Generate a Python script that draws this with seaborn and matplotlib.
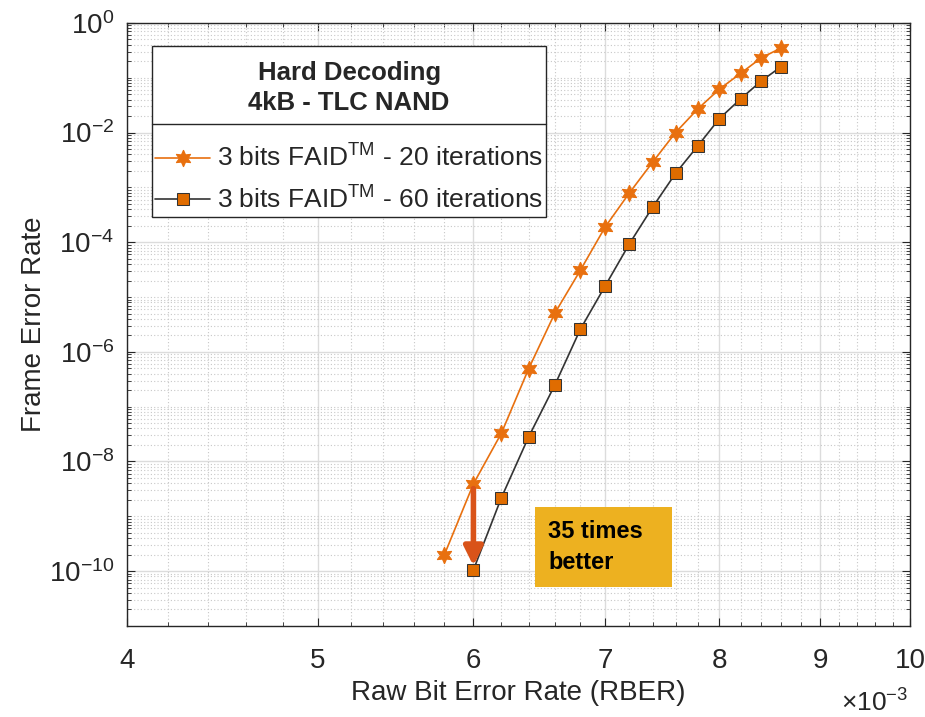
import numpy as np
import pandas as pd
import matplotlib
matplotlib.use("Agg")
import matplotlib.pyplot as plt
import matplotlib.ticker as mticker
from matplotlib.lines import Line2D
from matplotlib.patches import Rectangle
from matplotlib.offsetbox import VPacker, DrawingArea
import seaborn as sns

# RBER values and frame error rates
rber_20 = [5.8e-3, 6.0e-3, 6.2e-3, 6.4e-3, 6.6e-3, 6.8e-3, 7.0e-3, 7.2e-3,
           7.4e-3, 7.6e-3, 7.8e-3, 8.0e-3, 8.2e-3, 8.4e-3, 8.6e-3]
fer_20 = [2.0e-10, 3.9e-9, 3.3e-8, 4.9e-7, 5.1e-6, 3.1e-5, 1.9e-4, 7.9e-4,
          2.9e-3, 1.0e-2, 2.7e-2, 6.2e-2, 0.12, 0.23, 0.35]

rber_60 = [6.0e-3, 6.2e-3, 6.4e-3, 6.6e-3, 6.8e-3, 7.0e-3, 7.2e-3,
           7.4e-3, 7.6e-3, 7.8e-3, 8.0e-3, 8.2e-3, 8.4e-3, 8.6e-3]
fer_60 = [1.05e-10, 2.2e-9, 2.8e-8, 2.5e-7, 2.6e-6, 1.6e-5, 9.3e-5,
          4.4e-4, 1.8e-3, 5.7e-3, 1.8e-2, 4.1e-2, 8.7e-2, 0.16]

labels = [r"3 bits FAID$^{\rm TM}$ - 20 iterations",
          r"3 bits FAID$^{\rm TM}$ - 60 iterations"]
legend_title = "Hard Decoding\n4kB - TLC NAND"
note = "35 times\nbetter"

df20 = pd.DataFrame({"rber": rber_20, "fer": fer_20})
df60 = pd.DataFrame({"rber": rber_60, "fer": fer_60})

sns.set_style("ticks")
plt.rcParams["font.family"] = ["Liberation Sans", "DejaVu Sans"]
plt.rcParams["mathtext.fontset"] = "custom"
plt.rcParams["mathtext.rm"] = "Liberation Sans"
plt.rcParams["mathtext.it"] = "Liberation Sans:italic"
plt.rcParams["mathtext.bf"] = "Liberation Sans:bold"

txt = "#262626"
orange = "#E8700F"

fig = plt.figure(figsize=(9.25, 7.17), dpi=100)
ax = fig.add_axes([0.137, 0.127, 0.847, 0.841])

sns.lineplot(data=df20, x="rber", y="fer", ax=ax, color=orange, lw=1.2,
             marker=(6, 1, 0), markersize=12, markeredgecolor=orange,
             markerfacecolor=orange, label=labels[0])
sns.lineplot(data=df60, x="rber", y="fer", ax=ax, color="#333333", lw=1.2,
             marker="s", markersize=9, markeredgecolor="#333333",
             markerfacecolor="#E06C00", label=labels[1])

ax.set_xscale("log")
ax.set_yscale("log")
ax.set_xlim(4e-3, 10e-3)
ax.set_ylim(1e-11, 1e0)

ax.xaxis.set_major_locator(mticker.FixedLocator(np.arange(4, 11) * 1e-3))
ax.xaxis.set_major_formatter(mticker.FuncFormatter(lambda v, p: f"{v * 1e3:g}"))
ax.xaxis.set_minor_locator(mticker.FixedLocator(np.arange(4.2, 10, 0.2) * 1e-3))
ax.xaxis.set_minor_formatter(mticker.NullFormatter())

ax.yaxis.set_major_locator(mticker.LogLocator(base=100, numticks=20))
ax.yaxis.set_major_formatter(mticker.LogFormatterMathtext(base=10))
ax.yaxis.set_minor_locator(mticker.LogLocator(base=10, subs=np.arange(1, 10), numticks=50))
ax.yaxis.set_minor_formatter(mticker.NullFormatter())

ax.grid(which="major", color="#dcdcdc", lw=1.0, ls="-")
ax.grid(which="minor", color="#c8c8c8", lw=0.8, ls=(0, (1, 2)))
ax.set_axisbelow(True)

ax.tick_params(which="both", direction="in", top=True, right=True, colors=txt)
ax.tick_params(which="major", length=6, labelsize=20)
ax.tick_params(axis="x", which="major", pad=16)
ax.tick_params(axis="y", which="major", pad=9)
ax.tick_params(which="minor", length=3)
for s in ax.spines.values():
    s.set_color(txt)
    s.set_linewidth(1.0)

ax.set_xlabel("Raw Bit Error Rate (RBER)", fontsize=20, color=txt, labelpad=4)
ax.set_ylabel("Frame Error Rate", fontsize=20, color=txt)
ax.yaxis.set_label_coords(-0.102, 0.5)
fig.text(0.982, 0.001, r"$\times10^{-3}$", fontsize=19, color=txt,
         ha="right", va="bottom")

# arrow and annotation box
ax.annotate("", xy=(6.0e-3, 1.25e-10), xytext=(6.0e-3, 3.2e-9),
            arrowprops=dict(arrowstyle="-|>", lw=4, color="#D95319",
                            mutation_scale=28, shrinkA=0, shrinkB=0))
ax.add_patch(Rectangle((6.45e-3, 10 ** -10.29), 7.57e-3 - 6.45e-3,
                       10 ** -8.83 - 10 ** -10.29, facecolor="#EDB120",
                       edgecolor="none", zorder=3))
ax.text(6.55e-3, 10 ** -9.56, note, fontsize=17, fontweight="bold",
        color="black", ha="left", va="center", linespacing=1.45, zorder=4)

leg = ax.legend(loc="upper left", bbox_to_anchor=(0.032, 0.961), fontsize=19,
                title=legend_title, frameon=True, fancybox=False,
                edgecolor=txt, framealpha=1, borderpad=0.12, borderaxespad=0,
                handlelength=2.1, handletextpad=0.25, labelspacing=0.55)
leg.get_frame().set_linewidth(1.0)
plt.setp(leg.get_title(), fontsize=18.5, fontweight="bold",
         multialignment="center", linespacing=1.35)
leg._legend_box.align = "center"
leg._legend_box.sep = 21
# extra room above the title
title_box = leg._legend_box._children[0]
leg._legend_box._children[0] = VPacker(children=[DrawingArea(1, 8), title_box],
                                       pad=0, sep=0, align="center")

# separator line under the legend title
fig.canvas.draw()
lb = leg.get_window_extent()
tb = leg.get_title().get_window_extent()
inv = fig.transFigure.inverted()
(x0, y0), (x1, _) = inv.transform([(lb.x0, tb.y0 - 9), (lb.x1, tb.y0 - 9)])
fig.add_artist(Line2D([x0, x1], [y0, y0], transform=fig.transFigure,
                      color=txt, lw=1.0, zorder=10))

fig.savefig("out.png", dpi=100)
